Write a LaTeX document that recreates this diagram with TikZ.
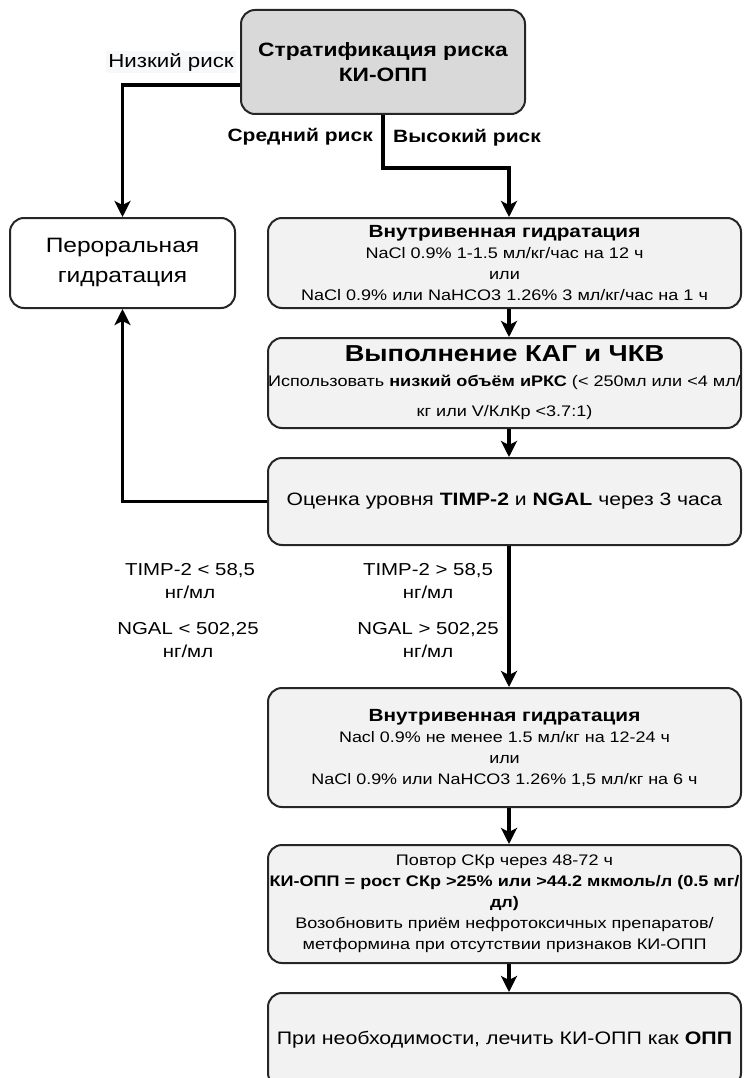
\documentclass[tikz,border=0pt]{standalone}
\usepackage{fontspec}
\setmainfont{Liberation Sans}[FakeStretch=1.18]
\usetikzlibrary{arrows.meta}
\begin{document}
\begin{tikzpicture}[x=1pt,y=-1pt,
  box/.style={draw=black!85, line width=2pt, rounded corners=14pt, align=center, inner sep=0pt},
  gbox/.style={box, fill=gray!10, minimum width=473pt},
  arr/.style={line width=3.3pt, -{Stealth[length=16pt,width=16pt,inset=4pt]}},
  lbl/.style={align=center, inner sep=1pt, font=\fontsize{17.3}{23}\selectfont}
]
\useasboundingbox (0,0) rectangle (744,1078);
\clip (0,0) rectangle (744,1078);

% nodes
\node[box, fill=gray!30, minimum width=284pt, minimum height=104pt,
      font=\fontsize{19.3}{25}\selectfont\bfseries] (top) at (383,62) {Стратификация риска\\КИ-ОПП};
\node[box, fill=white, minimum width=225pt, minimum height=90pt,
      font=\fontsize{20.8}{30}\selectfont] (oral) at (122.5,263) {Пероральная\\гидратация};
\node[gbox, minimum height=90pt, font=\fontsize{15.3}{21}\selectfont] (iv1) at (504.5,263)
  {{\fontsize{17.6}{21}\selectfont\bfseries Внутривенная гидратация}\\NaCl 0.9\% 1-1.5 мл/кг/час на 12 ч\\или\\NaCl 0.9\% или NaHCO3 1.26\% 3 мл/кг/час на 1 ч};
\node[gbox, minimum height=90pt, font=\fontsize{15.3}{30}\selectfont] (kag) at (504.5,383)
  {{\fontsize{23.1}{28}\selectfont\bfseries Выполнение КАГ и ЧКВ}\\[-5pt]Использовать \textbf{низкий объём иРКС} (< 250мл или <4 мл/\\кг или V/КлКр <3.7:1)};
\node[gbox, minimum height=87pt, font=\fontsize{17.9}{24}\selectfont] (oc) at (504.5,501.5)
  {Оценка уровня \textbf{TIMP-2} и \textbf{NGAL} через 3 часа};
\node[gbox, minimum height=119pt, font=\fontsize{15.2}{21}\selectfont] (iv2) at (504.5,747.5)
  {{\fontsize{17.6}{21}\selectfont\bfseries Внутривенная гидратация}\\Nacl 0.9\% не менее 1.5 мл/кг на 12-24 ч\\или\\NaCl 0.9\% или NaHCO3 1.26\% 1,5 мл/кг на 6 ч};
\node[gbox, minimum height=118pt, font=\fontsize{15.3}{21}\selectfont] (rep) at (504.5,904)
  {Повтор СКр через 48-72 ч\\\textbf{КИ-ОПП = рост СКр >25\% или >44.2 мкмоль/л (0.5 мг/}\\\textbf{дл)}\\Возобновить приём нефротоксичных препаратов/\\метформина при отсутствии признаков КИ-ОПП};
\node[gbox, minimum height=94pt, font=\fontsize{18.1}{24}\selectfont] (fin) at (504.5,1040)
  {При необходимости, лечить КИ-ОПП как \textbf{ОПП}};

% labels
\node[fill={rgb,255:red,247;green,248;blue,250}, inner sep=2pt, font=\fontsize{18.9}{22}\selectfont] (low) at (171,62) {Низкий риск};
\node[anchor=east, inner sep=1pt, font=\fontsize{17.8}{22}\selectfont\bfseries] (mid) at (374,137) {Средний риск};
\node[anchor=west, inner sep=1pt, font=\fontsize{17.8}{22}\selectfont\bfseries] (high) at (392,138) {Высокий риск};
\node[lbl] (l1) at (190,581.5) {TIMP-2 < 58,5\\нг/мл};
\node[lbl] (l2) at (188,640) {NGAL < 502,25\\нг/мл};
\node[lbl] (r1) at (428,581.5) {TIMP-2 > 58,5\\нг/мл};
\node[lbl] (r2) at (428,640) {NGAL > 502,25\\нг/мл};

% connectors
\coordinate (hk) at (509,168);
\coordinate (ax) at (509,0);
\draw[arr] ([yshift=-23pt]top.west) -| (oral.north);
\draw[arr] (top.south) |- (hk) -- (hk |- iv1.north);
\draw[arr] (ax |- iv1.south) -- (ax |- kag.north);
\draw[arr] (ax |- kag.south) -- (ax |- oc.north);
\draw[arr] (oc.west) -| (oral.south);
\draw[arr] (ax |- oc.south) -- (ax |- iv2.north);
\draw[arr] (ax |- iv2.south) -- (ax |- rep.north);
\draw[arr] (ax |- rep.south) -- (ax |- fin.north);
\end{tikzpicture}
\end{document}
